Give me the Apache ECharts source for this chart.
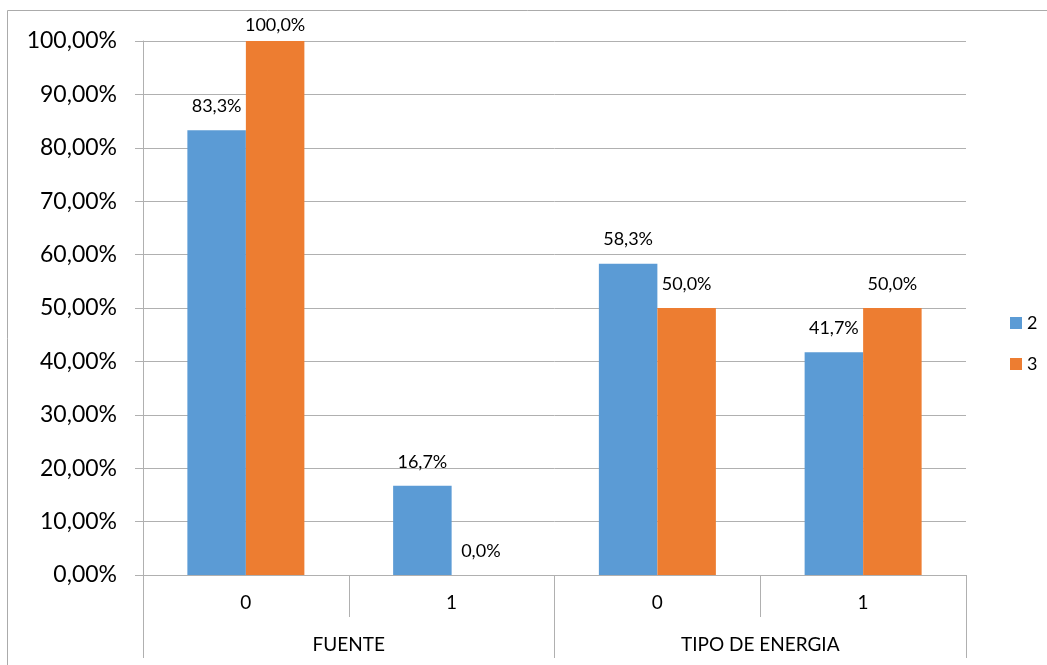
<!DOCTYPE html>
<html>
<head>
<meta charset="utf-8">
<script src="https://cdn.jsdelivr.net/npm/echarts@6/dist/echarts.min.js"></script>
<style>
  html, body { margin: 0; padding: 0; background: #fff; }
  #chart { width: 1047px; height: 665px; }
</style>
</head>
<body>
<div id="chart"></div>
<script>
// datos
var subCategories = ['0', '1', '0', '1'];
var groups = ['FUENTE', 'TIPO DE ENERGIA'];
var serie2 = [83.3, 16.7, 58.3, 41.7];
var serie3 = [100, 0, 50, 50];
var seriesNames = ['2', '3'];

var gridColor = '#b0b0b0';
var fontName = 'Lato';

function pct1(v) {
    return v.toFixed(1).replace('.', ',') + '%';
}

function toItems(list) {
    // la etiqueta del 100% queda pegada al borde superior
    return list.map(function (v) {
        if (v >= 100) {
            return { value: v, label: { distance: 7 } };
        }
        return v;
    });
}

var chart = echarts.init(document.getElementById('chart'));

var labelStyle = {
    show: true,
    position: 'top',
    distance: 15,
    color: '#000',
    fontFamily: fontName,
    fontSize: 18,
    formatter: function (p) { return pct1(p.value); }
};

var option = {
    backgroundColor: '#fff',
    animation: false,
    textStyle: { fontFamily: fontName },
    graphic: [{
        type: 'rect',
        shape: { x: 7.5, y: 10.5, width: 1100, height: 700 },
        style: { fill: 'none', stroke: '#ababab', lineWidth: 1 },
        silent: true
    }],
    color: ['#5b9bd5', '#ed7d31'],
    grid: { left: 143, right: 81, top: 41, bottom: 90 },
    legend: {
        orient: 'vertical',
        left: 1005,
        top: 309,
        itemWidth: 12,
        itemHeight: 12,
        itemGap: 23,
        icon: 'rect',
        textStyle: { fontFamily: fontName, fontSize: 18, color: '#000' },
        data: seriesNames
    },
    xAxis: [{
        type: 'category',
        data: subCategories,
        position: 'bottom',
        axisLine: { show: true, lineStyle: { color: gridColor, width: 1 } },
        axisTick: { show: true, length: 42, interval: 0, lineStyle: { color: gridColor } },
        axisLabel: { margin: 18, color: '#000', fontFamily: fontName, fontSize: 19 }
    }, {
        type: 'category',
        data: groups,
        position: 'bottom',
        axisLine: { show: false },
        axisTick: { show: true, length: 83, interval: 0, lineStyle: { color: gridColor } },
        axisLabel: { margin: 60, color: '#000', fontFamily: fontName, fontSize: 19 }
    }],
    yAxis: {
        type: 'value',
        min: 0,
        max: 100,
        interval: 10,
        axisLine: { show: true, lineStyle: { color: gridColor } },
        axisTick: { show: true, length: 8, lineStyle: { color: gridColor } },
        splitLine: { show: true, lineStyle: { color: gridColor } },
        axisLabel: {
            margin: 26,
            color: '#000',
            fontFamily: fontName,
            fontSize: 23,
            formatter: function (v) { return v.toFixed(2).replace('.', ',') + '%'; }
        }
    },
    series: [{
        name: seriesNames[0],
        type: 'bar',
        xAxisIndex: 0,
        barWidth: 58.5,
        barGap: '0%',
        data: toItems(serie2),
        label: labelStyle
    }, {
        name: seriesNames[1],
        type: 'bar',
        xAxisIndex: 0,
        barWidth: 58.5,
        barGap: '0%',
        data: toItems(serie3),
        label: labelStyle
    }]
};

chart.setOption(option);
</script>
</body>
</html>
